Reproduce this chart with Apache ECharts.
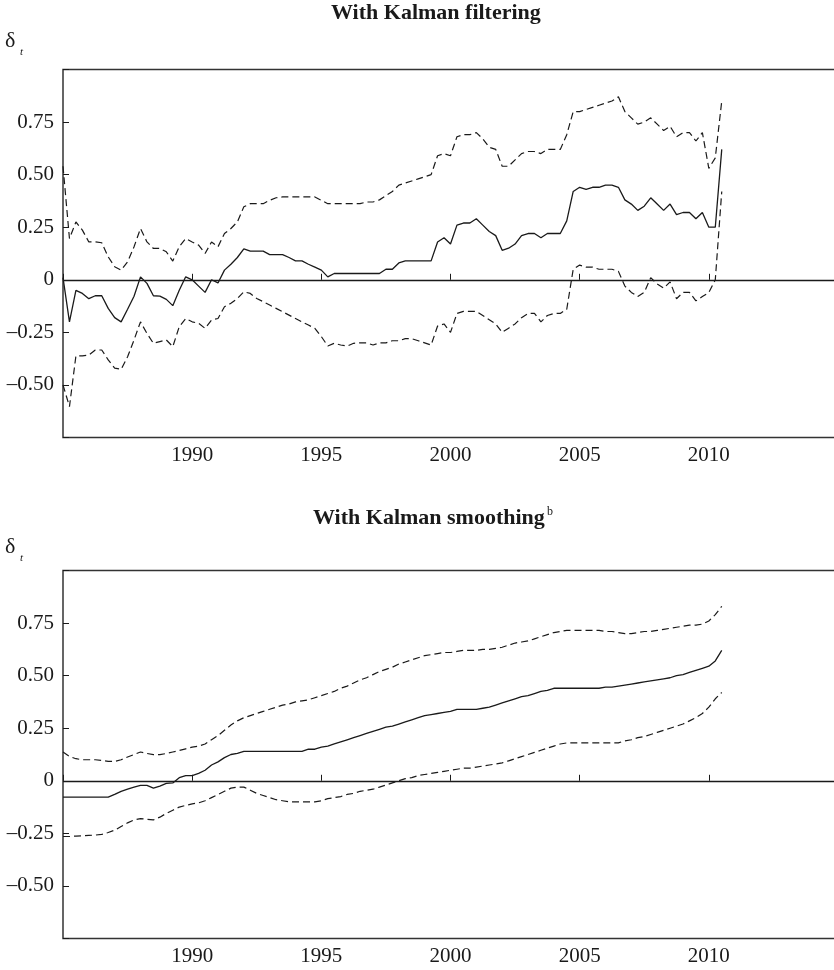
<!DOCTYPE html>
<html>
<head>
<meta charset="utf-8">
<script src="https://cdn.jsdelivr.net/npm/echarts@6/dist/echarts.min.js"></script>
<style>
html,body{margin:0;padding:0;background:#fff;}
#chart{width:834px;height:970px;}
</style>
</head>
<body>
<div id="chart"></div>
<script>
// Quarterly observations, 1985Q1 .. 2010Q3
const startYear = 1985;
const xTicks = [1990, 1995, 2000, 2005, 2010];
const yTicks = [-0.5, -0.25, 0, 0.25, 0.5, 0.75];

// Panel 1: with Kalman filtering
const filtEst = [0.01,-0.20,-0.05,-0.065,-0.09,-0.076,-0.076,-0.136,-0.18,-0.20,-0.14,-0.078,0.014,-0.017,-0.076,-0.078,-0.093,-0.123,-0.05,0.014,
  0.0,-0.03,-0.06,0.0,-0.015,0.046,0.074,0.106,0.147,0.136,0.136,0.136,0.12,0.12,0.12,0.106,0.09,0.09,0.074,0.06,
  0.046,0.014,0.03,0.03,0.03,0.03,0.03,0.03,0.03,0.03,0.05,0.05,0.08,0.09,0.09,0.09,0.09,0.09,
  0.18,0.20,0.17,0.26,0.27,0.27,0.29,0.26,0.23,0.21,0.14,0.15,0.17,0.21,0.22,0.22,0.20,0.22,0.22,0.22,0.28,
  0.42,0.44,0.43,0.44,0.44,0.45,0.45,0.44,0.38,0.36,0.33,0.35,0.39,0.36,0.33,0.36,0.31,0.32,0.32,0.29,0.32,0.25,0.25,0.62];
const filtUpper = [0.54,0.196,0.275,0.236,0.18,0.18,0.176,0.109,0.062,0.046,0.085,0.157,0.244,0.18,0.149,0.149,0.133,0.089,0.157,0.196,
  0.18,0.165,0.125,0.18,0.157,0.22,0.244,0.275,0.347,0.362,0.362,0.362,0.378,0.39,0.394,0.394,0.394,0.394,0.394,0.394,
  0.378,0.362,0.362,0.362,0.362,0.362,0.362,0.37,0.37,0.38,0.40,0.42,0.45,0.46,0.47,0.48,0.49,0.50,
  0.59,0.60,0.59,0.68,0.69,0.69,0.70,0.67,0.63,0.62,0.54,0.54,0.57,0.60,0.61,0.61,0.60,0.62,0.62,0.62,0.69,
  0.80,0.80,0.81,0.82,0.83,0.84,0.85,0.87,0.80,0.77,0.74,0.75,0.77,0.74,0.71,0.73,0.68,0.70,0.70,0.66,0.70,0.53,0.58,0.85];
const filtLower = [-0.50,-0.603,-0.362,-0.362,-0.358,-0.334,-0.334,-0.381,-0.42,-0.426,-0.366,-0.286,-0.20,-0.255,-0.302,-0.294,-0.286,-0.318,-0.223,-0.184,
  -0.20,-0.207,-0.231,-0.191,-0.184,-0.128,-0.112,-0.089,-0.057,-0.065,-0.089,-0.104,-0.12,-0.136,-0.152,-0.168,-0.184,-0.20,-0.215,-0.231,
  -0.27,-0.315,-0.302,-0.31,-0.315,-0.302,-0.30,-0.30,-0.31,-0.30,-0.30,-0.29,-0.29,-0.28,-0.28,-0.29,-0.30,-0.31,
  -0.22,-0.21,-0.25,-0.16,-0.15,-0.15,-0.15,-0.17,-0.19,-0.21,-0.25,-0.23,-0.21,-0.18,-0.16,-0.16,-0.20,-0.17,-0.16,-0.16,-0.14,
  0.05,0.07,0.06,0.06,0.05,0.05,0.05,0.04,-0.03,-0.06,-0.08,-0.06,0.01,-0.02,-0.04,-0.01,-0.09,-0.06,-0.06,-0.10,-0.08,-0.06,0.00,0.42];

// Panel 2: with Kalman smoothing
const smoothEst = [-0.078,-0.078,-0.078,-0.078,-0.078,-0.078,-0.078,-0.078,-0.065,-0.05,-0.04,-0.03,-0.022,-0.022,-0.035,-0.025,-0.012,-0.01,0.015,0.025,
  0.025,0.035,0.05,0.075,0.09,0.11,0.125,0.13,0.14,0.14,0.14,0.14,0.14,0.14,0.14,0.14,0.14,0.14,0.15,0.15,
  0.16,0.165,0.175,0.185,0.195,0.205,0.215,0.225,0.235,0.245,0.255,0.26,0.27,0.28,0.29,0.30,0.31,0.315,0.32,0.325,
  0.33,0.34,0.34,0.34,0.34,0.345,0.35,0.36,0.37,0.38,0.39,0.40,0.405,0.415,0.425,0.43,0.44,0.44,0.44,0.44,
  0.44,0.44,0.44,0.44,0.445,0.445,0.45,0.455,0.46,0.465,0.47,0.475,0.48,0.485,0.49,0.50,0.505,0.515,0.525,0.535,
  0.545,0.57,0.62];
const smoothUpper = [0.137,0.116,0.105,0.10,0.10,0.10,0.097,0.092,0.092,0.10,0.113,0.125,0.137,0.13,0.124,0.124,0.13,0.137,0.144,0.152,
  0.16,0.165,0.175,0.195,0.215,0.24,0.265,0.285,0.30,0.31,0.32,0.33,0.34,0.35,0.36,0.365,0.375,0.38,0.385,0.395,
  0.405,0.415,0.425,0.44,0.45,0.465,0.48,0.49,0.505,0.52,0.53,0.54,0.555,0.565,0.575,0.585,0.595,0.60,0.605,0.61,
  0.61,0.615,0.62,0.62,0.62,0.625,0.625,0.63,0.635,0.645,0.655,0.66,0.665,0.675,0.685,0.695,0.705,0.71,0.715,0.715,
  0.715,0.715,0.715,0.715,0.71,0.71,0.705,0.70,0.70,0.705,0.71,0.71,0.715,0.72,0.725,0.73,0.735,0.74,0.74,0.745,
  0.76,0.79,0.83];
const smoothLower = [-0.265,-0.265,-0.263,-0.262,-0.26,-0.258,-0.255,-0.246,-0.235,-0.217,-0.20,-0.186,-0.18,-0.183,-0.186,-0.173,-0.155,-0.14,-0.125,-0.117,
  -0.11,-0.105,-0.095,-0.08,-0.065,-0.05,-0.035,-0.03,-0.03,-0.045,-0.06,-0.07,-0.08,-0.09,-0.095,-0.10,-0.10,-0.10,-0.10,-0.10,
  -0.095,-0.085,-0.08,-0.075,-0.065,-0.06,-0.05,-0.045,-0.04,-0.03,-0.02,-0.01,0.0,0.01,0.015,0.025,0.03,0.035,0.04,0.045,
  0.05,0.055,0.06,0.06,0.065,0.07,0.075,0.08,0.085,0.095,0.105,0.115,0.125,0.135,0.145,0.155,0.165,0.175,0.18,0.18,
  0.18,0.18,0.18,0.18,0.18,0.18,0.18,0.19,0.195,0.205,0.21,0.22,0.23,0.24,0.25,0.26,0.27,0.285,0.30,0.32,
  0.35,0.39,0.42];

const FONT = '"Liberation Serif", "Times New Roman", serif';
const INK = '#1a1a1a';

function pairs(arr) { return arr.map((v, i) => [startYear + i / 4, v]); }

function fmtY(v) {
  if (Math.abs(v) < 1e-9) return '0';
  const s = Math.abs(v).toFixed(2);
  return v < 0 ? '\u2013' + s : s;
}

const grids = [
  { left: 63, top: 69.5, width: 775, height: 368 },
  { left: 63, top: 570.5, width: 775, height: 368 }
];

function xAxis(idx) {
  return {
    type: 'value', gridIndex: idx, min: 1985, max: 2015, interval: 5,
    axisLine: { show: false },
    axisTick: { show: true, inside: true, length: 6, lineStyle: { color: INK, width: 1 } },
    axisLabel: {
      show: true, margin: 7, color: INK, fontFamily: FONT, fontSize: 21,
      formatter: v => (xTicks.indexOf(v) >= 0 ? String(v) : '')
    },
    splitLine: { show: false }
  };
}
function yAxis(idx) {
  return {
    type: 'value', gridIndex: idx, min: -0.75, max: 1.0, interval: 0.25,
    axisLine: { show: false },
    axisTick: { show: true, inside: true, length: 6, lineStyle: { color: INK, width: 1 } },
    axisLabel: {
      show: true, margin: 9, color: INK, fontFamily: FONT, fontSize: 21,
      formatter: v => (yTicks.some(t => Math.abs(t - v) < 1e-9) ? fmtY(v) : '')
    },
    splitLine: { show: false }
  };
}

function line(idx, arr, dashed, withZero) {
  const s = {
    type: 'line', xAxisIndex: idx, yAxisIndex: idx, data: pairs(arr),
    showSymbol: false, symbol: 'none', animation: false, silent: true,
    lineStyle: dashed ? { color: INK, width: 1.2, type: [7, 4] } : { color: INK, width: 1.3 }
  };
  if (withZero) {
    s.markLine = {
      silent: true, symbol: ['none', 'none'], animation: false,
      label: { show: false },
      lineStyle: { color: INK, width: 1.3, type: 'solid' },
      data: [{ yAxis: 0 }]
    };
  }
  return s;
}

const chart = echarts.init(document.getElementById('chart'), null, { renderer: 'canvas' });
chart.setOption({
  backgroundColor: '#fff',
  animation: false,
  grid: grids.map(g => Object.assign({
    show: true, borderColor: '#333', borderWidth: 1.5, backgroundColor: 'transparent',
    containLabel: false, outerBoundsMode: 'none'
  }, g)),
  xAxis: [xAxis(0), xAxis(1)],
  yAxis: [yAxis(0), yAxis(1)],
  series: [
    line(0, filtEst, false, true),
    line(0, filtUpper, true, false),
    line(0, filtLower, true, false),
    line(1, smoothEst, false, true),
    line(1, smoothUpper, true, false),
    line(1, smoothLower, true, false)
  ],
  graphic: [
    { type: 'text', left: 331, top: 2, style: { text: 'With Kalman filtering', font: 'bold 22px ' + FONT, fill: INK } },
    { type: 'text', left: 5, top: 30, style: { text: '\u03b4', font: '22px ' + FONT, fill: INK } },
    { type: 'text', left: 20, top: 47, style: { text: 't', font: 'italic 11px ' + FONT, fill: INK } },
    { type: 'text', left: 313, top: 507, style: { text: 'With Kalman smoothing', font: 'bold 22px ' + FONT, fill: INK } },
    { type: 'text', left: 547, top: 506, style: { text: 'b', font: '12px ' + FONT, fill: INK } },
    { type: 'text', left: 5, top: 536, style: { text: '\u03b4', font: '22px ' + FONT, fill: INK } },
    { type: 'text', left: 20, top: 553, style: { text: 't', font: 'italic 11px ' + FONT, fill: INK } }
  ]
});
</script>
</body>
</html>
